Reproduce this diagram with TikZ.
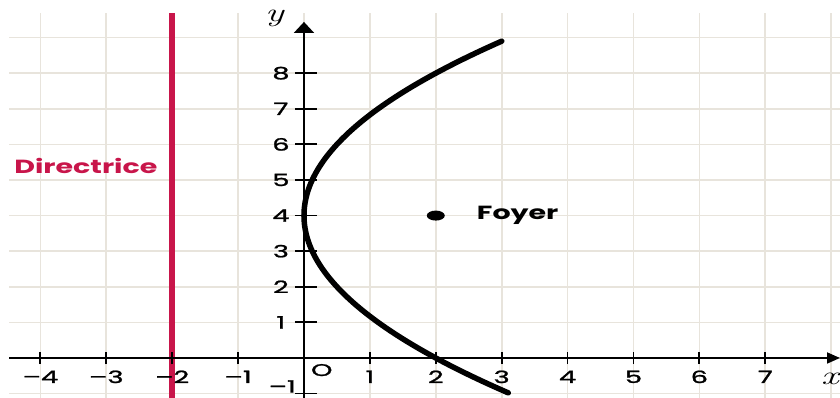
\documentclass[tikz,border=0pt]{standalone}
\usepackage{fontspec}
\setmainfont{Poppins}
\newfontfamily\digfont{Poppins}[FakeBold=1.2]
\newfontfamily\lmrfont{Latin Modern Roman}
\usetikzlibrary{arrows.meta,shapes.geometric}
\definecolor{gridc}{HTML}{E8E4DC}
\definecolor{crim}{HTML}{C8154A}
\tikzset{
  gridline/.style={gridc, line width=1.7pt},
  axisline/.style={black, line width=1.8pt},
  curveline/.style={black, line width=5.5pt, line cap=round},
  ticklab/.style={font=\fontsize{17}{17}\selectfont\digfont, xscale=1.6, inner sep=0pt},
  biglab/.style={font=\fontsize{19}{19}\selectfont\bfseries, xscale=1.5, inner sep=0pt},
  axislab/.style={font=\fontsize{26}{26}\selectfont\lmrfont\itshape, xscale=1.5, inner sep=0pt}
}
\begin{document}
\begin{tikzpicture}[x=65.9pt,y=35.6pt]
\useasboundingbox (-4.613,-1.124) rectangle (8.134,10.056);
\fill[white] (-4.613,-1.124) rectangle (8.134,10.056);
% grid
\foreach \i in {-4,...,8} \draw[gridline] (\i,-1.2) -- (\i,9.69);
\foreach \j in {-1,...,9} \draw[gridline] (-4.476,\j) -- (8.2,\j);
% directrix
\draw[crim, line width=6.5pt] (-2,-1.2) -- (-2,9.69);
% axes
\coordinate (ybot) at (0,-1.2);
\coordinate (ytop) at (0,9.44);
\coordinate (xleft) at (-4.476,0);
\coordinate (xright) at (8.134,0);
\draw[axisline, -{Triangle[width=20pt,length=11pt]}] (ybot) -- (ytop);
\draw[axisline, -{Triangle[width=11pt,length=13pt]}] (xleft) -- (xright);
% ticks
\foreach \i in {-4,...,-1,1,2,...,7} \draw[axisline] (\i,-0.17) -- (\i,0.17);
\foreach \j in {-1,1,2,...,8} \draw[axisline] (-0.137,\j) -- (0.197,\j);
% parabola
\draw[curveline] plot[domain=-0.98:8.9, samples=120, variable=\t] ({(\t-4)^2/8},\t);
% focus
\node (F) [fill=black, ellipse, minimum width=18pt, minimum height=10pt, inner sep=0pt] at (2,4) {};
\node (Flab) [biglab, anchor=west] at (2.62,4) {Foyer};
\node (Dlab) [biglab, text=crim] at (-3.31,5.39) {Directrice};
% tick labels
\foreach \i in {1,...,4} \node (xln\i) [ticklab] at (-\i,-0.53) {–\i};
\foreach \i in {1,...,7} \node (xl\i) [ticklab] at (\i,-0.53) {\i};
\foreach \j in {1,...,8} \node (yl\j) [ticklab] at (-0.35,\j) {\j};
\node (ylm) [ticklab] at (-0.33,-0.8) {–1};
\node (O) [ticklab] at (0.27,-0.34) {O};
\node (ylab) [axislab] at (-0.45,9.55) {y};
\node (xlab) [axislab] at (7.98,-0.6) {x};
\end{tikzpicture}
\end{document}
